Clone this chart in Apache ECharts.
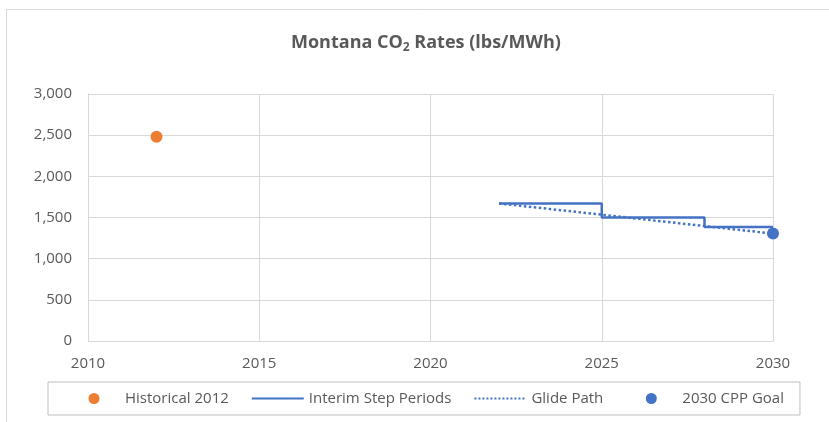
<!DOCTYPE html>
<html>
<head>
<meta charset="utf-8">
<script src="https://cdn.jsdelivr.net/npm/echarts@6/dist/echarts.min.js"></script>
<style>
  html, body { margin: 0; padding: 0; background: #fff; }
  #chart { width: 829px; height: 422px; }
</style>
</head>
<body>
<div id="chart"></div>
<script>
  /*-----data-----*/
  var historicalPoint = [[2012, 2481]];
  var stepYears = [2022, 2025, 2028, 2030];
  var stepValues = [1671, 1500, 1385, 1385];
  var glideYears = [2022, 2023, 2024, 2025, 2026, 2027, 2028, 2029, 2030];
  var glideValues = [1671, 1625, 1580, 1534, 1488, 1442, 1396, 1350, 1305];
  var goalPoint = [[2030, 1305]];

  function pairs(xs, ys) {
    return xs.map(function (x, i) { return [x, ys[i]]; });
  }

  var font = '"Open Sans", Lato, sans-serif';
  // dot centred in a 52x11 legend box
  var dotIcon = 'path://M0,0M52,11M20.5,5.5A5.5,5.5,0,1,1,31.5,5.5A5.5,5.5,0,1,1,20.5,5.5Z';
  var chart = echarts.init(document.getElementById('chart'));

  var option = {
    animation: false,
    textStyle: { fontFamily: font },
    title: {
      text: '{a|Montana CO}{s|2}{a| Rates (lbs/MWh)}',
      left: 286,
      top: 27,
      textStyle: {
        rich: {
          a: { fontSize: 18, fontWeight: 'bold', color: '#595959', fontFamily: font },
          s: { fontSize: 12, fontWeight: 'bold', color: '#595959', fontFamily: font, padding: [10, 0, 0, 0] }
        }
      }
    },
    graphic: [{
      type: 'rect',
      shape: { x: 6.5, y: 9.5, width: 840, height: 420 },
      style: { fill: 'none', stroke: '#d9d9d9', lineWidth: 1 },
      silent: true
    }],
    grid: { left: 88, right: 56, top: 94, bottom: 81 },
    legend: {
      left: 48,
      top: 382,
      padding: [9, 16, 9, 20],
      borderColor: '#bfbfbf',
      borderWidth: 1,
      itemWidth: 52,
      itemHeight: 11,
      itemGap: 22,
      textStyle: { fontSize: 15, color: '#595959', fontFamily: font },
      data: [
        { name: 'Historical 2012', icon: dotIcon },
        { name: 'Interim Step Periods', itemStyle: { opacity: 0 } },
        { name: 'Glide Path', itemStyle: { opacity: 0 } },
        { name: '2030 CPP Goal', icon: dotIcon }
      ]
    },
    xAxis: {
      type: 'value',
      min: 2010,
      max: 2030,
      interval: 5,
      axisLine: { show: true, lineStyle: { color: '#d9d9d9' } },
      axisTick: { show: false },
      splitLine: { show: true, lineStyle: { color: '#d9d9d9' } },
      axisLabel: {
        fontSize: 15,
        color: '#595959',
        margin: 15,
        formatter: function (v) { return String(v); }
      }
    },
    yAxis: {
      type: 'value',
      min: 0,
      max: 3000,
      interval: 500,
      axisLine: { show: true, lineStyle: { color: '#d9d9d9' } },
      axisTick: { show: false },
      splitLine: { lineStyle: { color: '#d9d9d9' } },
      axisLabel: { fontSize: 15, color: '#595959', margin: 16 }
    },
    series: [
      {
        name: 'Historical 2012',
        type: 'scatter',
        symbolSize: 12,
        itemStyle: { color: '#ed7d31', opacity: 1 },
        data: historicalPoint
      },
      {
        name: 'Interim Step Periods',
        type: 'line',
        step: 'end',
        showSymbol: false,
        symbol: 'none',
        lineStyle: { color: '#4472c4', width: 2.5 },
        itemStyle: { color: '#4472c4' },
        data: pairs(stepYears, stepValues)
      },
      {
        name: 'Glide Path',
        type: 'line',
        showSymbol: false,
        symbol: 'none',
        lineStyle: { color: '#4472c4', width: 2.5, type: 'dotted' },
        itemStyle: { color: '#4472c4' },
        data: pairs(glideYears, glideValues)
      },
      {
        name: '2030 CPP Goal',
        type: 'scatter',
        symbolSize: 12,
        itemStyle: { color: '#4472c4', opacity: 1 },
        z: 5,
        data: goalPoint
      }
    ]
  };

  chart.setOption(option);
</script>
</body>
</html>
